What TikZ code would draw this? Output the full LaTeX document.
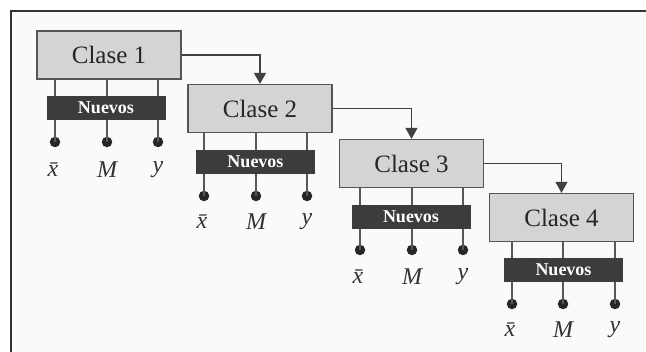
\documentclass[tikz,border=0pt]{standalone}
\usepackage{fontspec}
\setmainfont{Liberation Serif}
\usetikzlibrary{arrows.meta}
\definecolor{boxfill}{HTML}{D4D4D4}
\definecolor{boxline}{HTML}{555555}
\definecolor{barfill}{HTML}{3C3C3C}
\definecolor{linegray}{HTML}{585858}
\begin{document}
\begin{tikzpicture}[x=1pt,y=-1pt,
  clase/.style={draw=boxline, line width=1.3pt, fill=boxfill, minimum width=144pt, minimum height=48pt, inner sep=0pt, font=\fontsize{25}{28}\selectfont, text=black!85},
  nuevos/.style={fill=barfill, draw=barfill, minimum width=118pt, minimum height=23pt, inner sep=0pt, text=white, font=\fontsize{18}{20}\selectfont\bfseries},
  pin/.style={circle, fill=black!85, minimum size=10.5pt, inner sep=0pt},
  var/.style={font=\fontsize{24}{26}\selectfont\itshape, text=black!80, inner sep=0pt},
  stem/.style={draw=linegray, line width=1.3pt},
  flow/.style={draw=linegray, line width=1.3pt, -{Triangle[width=12pt,length=11pt]}, black!75}
]
\useasboundingbox (0,0) rectangle (646,352);
% frame (only top and left edges visible)
\fill[white!98!black] (11,11) rectangle (646,352);
\draw[black!80, line width=2pt] (646,11) -- (11,11) -- (11,352);

% boxes
\node[clase] (c1) at (109,55) {Clase 1};
\node[clase] (c2) at (260,108.5) {Clase 2};
\node[clase] (c3) at (411.5,163.5) {Clase 3};
\node[clase] (c4) at (561.5,217.5) {Clase 4};

% pins
\node[pin] (p1a) at (55,142) {};  \node[pin] (p1b) at (107,142) {};  \node[pin] (p1c) at (158,142) {};
\node[pin] (p2a) at (204,196) {}; \node[pin] (p2b) at (256,196) {}; \node[pin] (p2c) at (307,196) {};
\node[pin] (p3a) at (360,250) {}; \node[pin] (p3b) at (412,250) {}; \node[pin] (p3c) at (463,250) {};
\node[pin] (p4a) at (512,304) {}; \node[pin] (p4b) at (563,304) {}; \node[pin] (p4c) at (615,304) {};

% stems
\foreach \i in {1,2,3,4}{
  \foreach \j in {a,b,c}{
    \draw[stem] (c\i.south -| p\i\j) -- (p\i\j.center);
  }
}

% Nuevos bars (drawn over the stems)
\node[nuevos] (n1) at (106,107.5) {Nuevos};
\node[nuevos] (n2) at (255.5,161.5) {Nuevos};
\node[nuevos] (n3) at (411,216.5) {Nuevos};
\node[nuevos] (n4) at (563.5,270) {Nuevos};

% variable labels
\foreach \i/\y in {1/170,2/222,3/277,4/330}{
  \node[var] (x\i) at ([xshift=-2pt]p\i a |- 0,\y) {\={x}};
  \node[var] (m\i) at (p\i b |- 0,\y) {M};
  \node[var] (y\i) at (p\i c |- 0,\y) {y};
}

% flow arrows
\draw[flow] (c1.east) -| (c2.north);
\draw[flow] (c2.east) -| (c3.north);
\draw[flow] (c3.east) -| (c4.north);
\end{tikzpicture}
\end{document}
